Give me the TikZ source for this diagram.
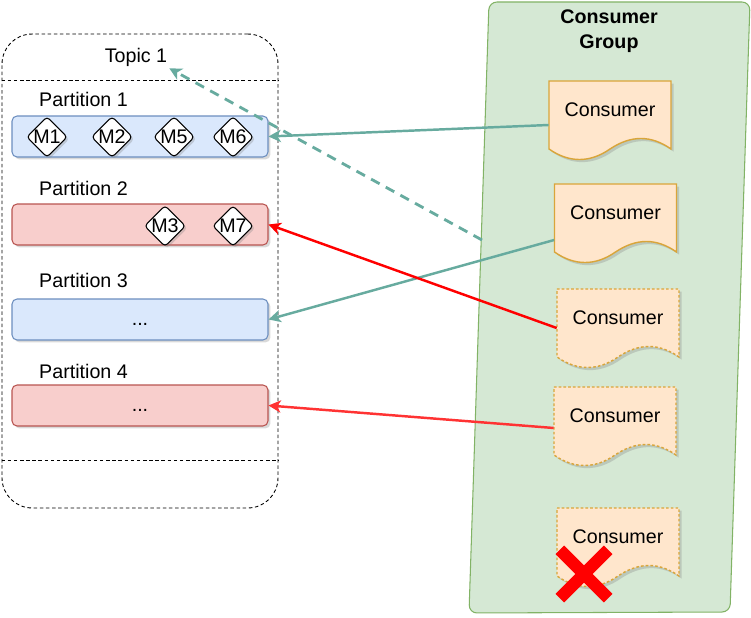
\documentclass[tikz,border=0pt]{standalone}
\usepackage{fontspec}
\setmainfont{Liberation Sans}
\usetikzlibrary{arrows.meta,shapes.geometric,shapes.misc,shadows,calc}
\definecolor{tealarrow}{HTML}{67AB9F}
\definecolor{blueFill}{HTML}{DAE8FC}
\definecolor{blueLine}{HTML}{6C8EBF}
\definecolor{redFill}{HTML}{F8CECC}
\definecolor{redLine}{HTML}{B85450}
\definecolor{groupFill}{HTML}{D5E8D4}
\definecolor{groupLine}{HTML}{82B366}
\definecolor{docFill}{HTML}{FFE6CC}
\definecolor{docLine}{HTML}{D9A53A}
\definecolor{lightRed}{HTML}{FF3333}

\newcommand{\consumer}[3]{%
  \draw[docshape,#3] ($(#2)+(-61,-29)$) -- ($(#2)+(61,-29)$) -- ($(#2)+(61,39)$)
    .. controls ($(#2)+(41,25)$) and ($(#2)+(21,25)$) .. ($(#2)+(0,39)$)
    .. controls ($(#2)+(-20,53)$) and ($(#2)+(-41,53)$) .. ($(#2)+(-61,39)$) -- cycle;
  \node[consumerbox] (#1) at (#2) {Consumer};}

\begin{document}
\begin{tikzpicture}[x=0.02cm, y=-0.02cm,
    font=\fontsize{11.2}{13.4}\selectfont,
    topicbox/.style={draw, dashed, dash pattern=on 2pt off 1.5pt, line width=0.5pt, rounded corners=0.6cm,
      minimum width=5.52cm, minimum height=9.48cm, inner sep=0},
    sepline/.style={draw, dash pattern=on 2pt off 1.5pt, line width=0.5pt},
    partbox/.style={draw, line width=0.6pt, rounded corners=0.1cm, minimum width=5.12cm, minimum height=0.82cm,
      inner sep=0, text height=8.5pt, text depth=2pt,
      drop shadow={shadow xshift=1.4pt, shadow yshift=-1.4pt, opacity=0.3}},
    bluepart/.style={partbox, fill=blueFill, draw=blueLine},
    redpart/.style={partbox, fill=redFill, draw=redLine},
    msg/.style={diamond, draw, fill=white, line width=0.6pt, rounded corners=2pt, aspect=1, inner sep=0,
      minimum size=0.8cm, drop shadow={shadow xshift=1.2pt, shadow yshift=-1.2pt, opacity=0.3}},
    docshape/.style={draw=docLine, fill=docFill, line width=0.8pt,
      drop shadow={shadow xshift=1.5pt, shadow yshift=-1.5pt, opacity=0.3}},
    consumerbox/.style={minimum width=2.44cm, minimum height=1.16cm, inner sep=0},
    softdash/.style={dash pattern=on 1.5pt off 1.2pt},
    link/.style={line width=1.4pt, -{Stealth[length=7pt, width=7pt, inset=2pt]}}]
\useasboundingbox (0,0) rectangle (751,618);

\node[topicbox] (topicbox) at (140,271) {};
\node[inner sep=1pt] (topic) at (136,57) {Topic 1};
\draw[sepline] ($(topicbox.north west)+(0,47)$) -- ($(topicbox.north east)+(0,47)$);
\draw[sepline] ($(topicbox.south west)+(0,-48)$) -- ($(topicbox.south east)+(0,-48)$);

\draw[fill=groupFill, draw=groupLine, line width=0.6pt, rounded corners=0.16cm]
  (489,2) -- (750,2) -- (730,612) -- (469,613) -- cycle;
\node[font=\fontsize{11.2}{14.2}\selectfont\bfseries, align=center] (group) at (609,31) {Consumer\\Group};
\coordinate (gedge) at (482,240);

\node[anchor=west] (l1) at (33,99) {Partition 1};
\node[anchor=west] (l2) at (33,188) {Partition 2};
\node[anchor=west] (l3) at (33,280) {Partition 3};
\node[anchor=west] (l4) at (33,371) {Partition 4};

\node[bluepart] (p1) at (140,136.5) {};
\node[redpart] (p2) at (140,224.5) {};
\node[bluepart] (p3) at (140,319.5) {...};
\node[redpart] (p4) at (140,405.5) {...};

\node[msg] (m1) at (47,137) {M1};
\node[msg] (m2) at (112,137) {M2};
\node[msg] (m5) at (174,137) {M5};
\node[msg] (m6) at (233,137) {M6};
\node[msg] (m3) at (165,226) {M3};
\node[msg] (m7) at (233,226) {M7};

\consumer{c1}{610,110}{}
\consumer{c2}{615.5,213}{}
\consumer{c3}{618,318}{softdash}
\consumer{c4}{615,416}{softdash}
\consumer{c5}{618,537}{softdash}

\node[draw=red, cross out, line width=7pt, minimum size=0.72cm, inner sep=0] (fail) at (584,574) {};

\draw[link, draw=tealarrow] ($(c1.west)+(0,15)$) -- (p1.east);
\draw[link, draw=tealarrow] ($(c2.west)+(0,27)$) -- (p3.east);
\draw[link, draw=red] ($(c3.west)+(0,10)$) -- (p2.east);
\draw[link, draw=lightRed] ($(c4.west)+(0,12)$) -- (p4.east);
\draw[link, draw=tealarrow, line width=1.6pt, dash pattern=on 5.5pt off 4pt] (gedge) -- (topic.south east);
\end{tikzpicture}
\end{document}
